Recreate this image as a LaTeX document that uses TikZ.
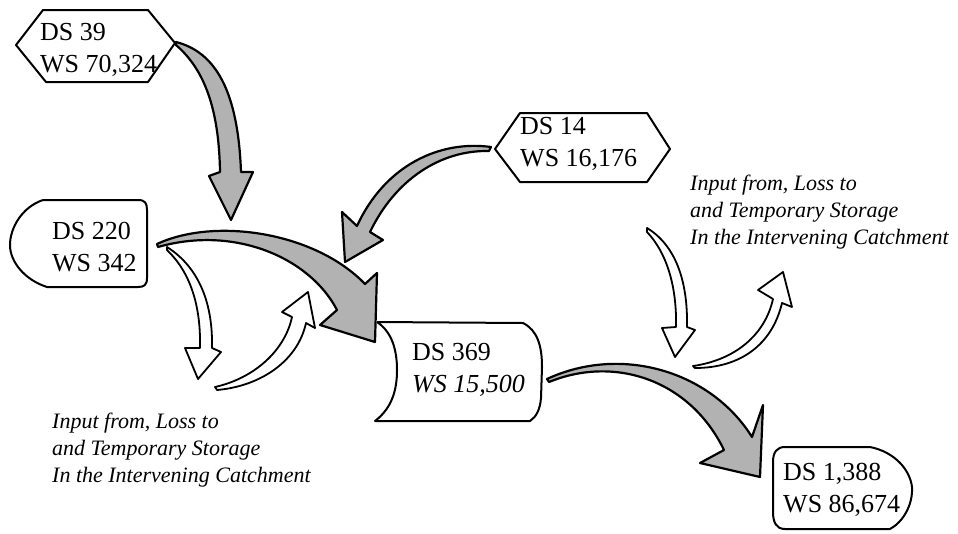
\documentclass[tikz,border=0pt]{standalone}
\usepackage{fontspec}
\setmainfont{Liberation Serif}
\tikzset{
  ds/.style={anchor=west,inner sep=0pt,align=left,font=\fontsize{26}{32}\selectfont},
  note/.style={anchor=west,inner sep=0pt,align=left,font=\itshape\fontsize{22}{27}\selectfont},
  outline/.style={draw,line width=2pt,line join=round},
  grayar/.style={draw,line width=2.2pt,line join=round,fill=black!30},
  whitear/.style={draw,line width=1.8pt,line join=round,fill=white},
}
\begin{document}
\begin{tikzpicture}[x=1pt,y=-1pt]
  \useasboundingbox (0,0) rectangle (958,533);
  % stations
  \node[ds] (ds39) at (40,50) {DS 39\\WS 70,324};
  \node[ds] (ds220) at (52,247) {DS 220\\WS 342};
  \node[ds] (ds14) at (520,144) {DS 14\\WS 16,176};
  \node[ds] (ds369) at (412,370) {DS 369\\\textit{WS 15,500}};
  \node[ds] (ds1388) at (783,490) {DS 1,388\\WS 86,674};
  \node[note] (lossL) at (52,450) {Input from, Loss to\\and Temporary Storage\\In the Intervening Catchment};
  \node[note] (lossR) at (690,212) {Input from, Loss to\\and Temporary Storage\\In the Intervening Catchment};
  % outlines
  \draw[outline] (16,45) -- (43,10) -- (148,10) -- (175,43) -- (148,82) -- (46,82) -- cycle;
  \draw[outline] (495,149) -- (520,113) -- (647,113) -- (670,149) -- (647,182) -- (520,182) -- cycle;
  \draw[outline] (43,200) -- (138,200) .. controls (145,200) and (147,203) .. (147,210) -- (147,278)
    .. controls (147,285) and (144,287) .. (138,287) -- (47,287) .. controls (25,280) and (10,262) .. (10,245)
    .. controls (10,228) and (22,207) .. (43,200);
  \draw[outline] (377,322) -- (523,323) .. controls (537,330) and (542,345) .. (542,367) -- (541,398)
    .. controls (540,410) and (536,417) .. (530,421) -- (375,421) .. controls (392,408) and (397,390) .. (397,370)
    .. controls (397,350) and (392,332) .. (377,322);
  \draw[outline] (785,447) -- (870,447) .. controls (895,452) and (910,470) .. (912,487)
    .. controls (913,505) and (903,522) .. (890,529) -- (785,529) .. controls (776,529) and (773,522) .. (773,512)
    -- (773,462) .. controls (773,452) and (777,447) .. (785,447);
  % white arrows
  \draw[whitear] (167,247) .. controls (200,268) and (213,305) .. (212,348) -- (221,352) -- (198,379) -- (185,348)
    -- (200,348) .. controls (201,305) and (190,272) .. (167,250) -- cycle;
  \draw[whitear] (215,387) .. controls (255,378) and (285,350) .. (292,317) -- (282,312) -- (308,292) -- (315,328)
    -- (306,323) .. controls (298,360) and (262,386) .. (217,390) -- cycle;
  \draw[whitear] (647,228) .. controls (675,245) and (688,280) .. (687,327) -- (695,330) -- (675,357) -- (662,328)
    -- (676,327) .. controls (677,285) and (666,252) .. (647,232) -- cycle;
  \draw[whitear] (693,366) .. controls (735,360) and (765,335) .. (773,299) -- (758,290) -- (783,272) -- (792,307)
    -- (782,303) .. controls (772,345) and (740,368) .. (695,368) -- cycle;
  % gray arrows
  \draw[grayar] (176,42) .. controls (215,52) and (238,90) .. (241,172) -- (253,172) -- (231,220) -- (209,176)
    -- (220,172) .. controls (219,110) and (205,70) .. (176,45) -- cycle;
  \draw[grayar] (491,147) .. controls (440,140) and (385,165) .. (357,226) -- (342,212) -- (345,262) -- (383,240)
    -- (370,232) .. controls (395,180) and (440,150) .. (489,151) -- cycle;
  \draw[grayar] (157,244) .. controls (215,217) and (315,232) .. (365,284) -- (377,273) -- (375,342) -- (320,325)
    -- (337,310) .. controls (310,258) and (235,225) .. (158,247) -- cycle;
  \draw[grayar] (547,379) .. controls (620,345) and (710,370) .. (752,437) -- (763,405) -- (760,477) -- (700,463)
    -- (724,450) .. controls (690,380) and (615,355) .. (549,382) -- cycle;
\end{tikzpicture}
\end{document}
